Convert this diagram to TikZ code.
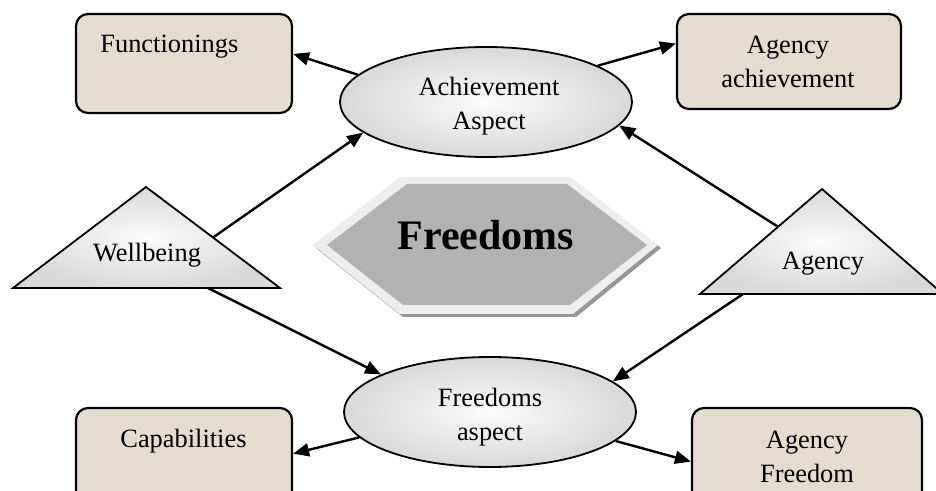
\documentclass[tikz,border=0pt]{standalone}
\usepackage{fontspec}
\setmainfont{Liberation Serif}
\usetikzlibrary{arrows.meta,calc,shapes.geometric}
\definecolor{paper}{RGB}{228,220,206}
\definecolor{hexface}{RGB}{178,178,178}
\definecolor{hexrim}{RGB}{238,238,238}
\definecolor{hexshadow}{RGB}{150,150,150}
\begin{document}
\begin{tikzpicture}[x=0.5pt,y=-0.5pt,
  lbl/.style={inner sep=0pt,align=center,anchor=base,font=\fontsize{13.2}{17}\selectfont},
  box/.style={draw=black,line width=1.1pt,rounded corners=6pt,fill=paper,inner sep=0pt},
  aspect/.style={ellipse,draw=black,line width=0.9pt,inner color=gray!3,outer color=gray!30,inner sep=0pt,
    minimum width=146pt,minimum height=55pt},
  marble/.style={draw=black,line width=0.9pt,inner color=gray!3,outer color=gray!30,line join=miter},
  link/.style={line width=1.2pt,-{Triangle[length=8pt,width=6.5pt]}}]
\useasboundingbox (0,0) rectangle (936,491);

% outcome boxes
\node[box,minimum width=108pt,minimum height=49.5pt] (fun) at (184,63.5) {};
\node[box,minimum width=112pt,minimum height=47.5pt] (aach) at (789,61.5) {};
\node[box,minimum width=108pt,minimum height=49.5pt] (cap) at (184,457.5) {};
\node[box,minimum width=115pt,minimum height=47.5pt] (afr) at (807,455.5) {};
% base anchor of a two-line label sits on its last line
\node[lbl,anchor=base west] (funT) at (100,53) {Functionings};
\node[lbl] (aachT) at (788,88) {Agency\\achievement};
\node[lbl,anchor=base west] (capT) at (120,447) {Capabilities};
\node[lbl] (afrT) at (807,482) {Agency\\Freedom};

% the two aspects
\node[aspect] (ach) at (486,102) {};
\node[aspect] (fa) at (490,412) {};
\node[lbl] (achT) at (489,130) {Achievement\\Aspect};
\node[lbl] (faT) at (490,440) {Freedoms\\aspect};

% wellbeing and agency triangles
\coordinate (wbA) at (146,187);
\coordinate (wbL) at (13,288);
\coordinate (wbR) at (280,288);
\path[marble] (wbA) -- (wbR) -- (wbL) -- cycle;
\node[lbl] (wbT) at (147,262) {Wellbeing};
\coordinate (agA) at (822,189);
\coordinate (agL) at (700,294);
\coordinate (agR) at (943,294);
\path[marble] (agA) -- (agR) -- (agL) -- cycle;
\node[lbl] (agT) at (823,270) {Agency};

\coordinate (wbE) at ($(wbA)!0.5!(wbR)$);
\coordinate (wbB) at ($(wbL)!0.73!(wbR)$);
\coordinate (agE) at ($(agA)!0.36!(agL)$);
\coordinate (agB) at ($(agL)!0.177!(agR)$);

% central bevelled hexagon
\fill[hexshadow] (316,248) -- (403,180) -- (573,180) -- (661,248) -- (576,317) -- (403,317) -- cycle;
\fill[hexrim] (313,245) -- (400,177) -- (570,177) -- (658,245) -- (573,314) -- (400,314) -- cycle;
\fill[hexface] (327,245) -- (407,184) -- (567,184) -- (647,245) -- (570,305) -- (403,305) -- cycle;
\node[inner sep=0pt,anchor=base,font=\fontsize{21}{25}\selectfont\bfseries] (hexT) at (486,250) {Freedoms};

% connectors
\draw[link] (ach.168) -- (fun.5.5);
\draw[link] (ach.18) -- (aach.171.6);
\draw[link] (wbE) -- (ach.194.5);
\draw[link] (agE) -- (ach.350.3);
\draw[link] (wbB) -- (fa.161.7);
\draw[link] (agB) -- (fa.14);
\draw[link] (fa.191) -- (cap.2.4);
\draw[link] (fa.347) -- (afr.183.7);
\end{tikzpicture}
\end{document}
